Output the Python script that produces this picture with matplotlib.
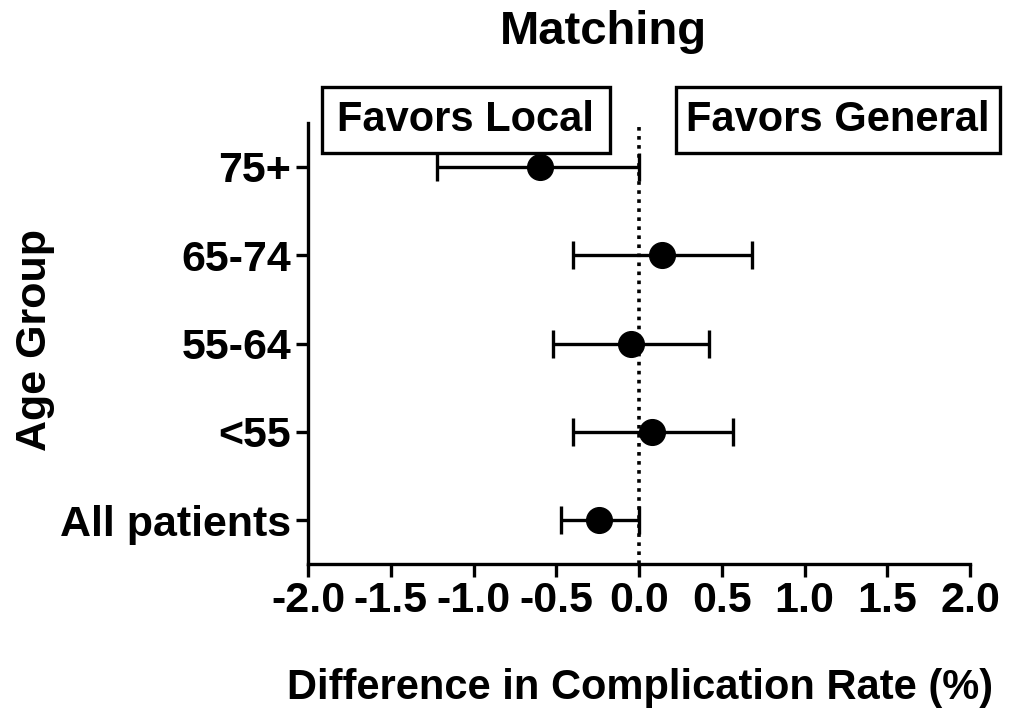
import numpy as np
import matplotlib.pyplot as plt
from matplotlib.patches import Rectangle

plt.rcParams['font.family'] = ['Liberation Sans', 'DejaVu Sans']
plt.rcParams['font.weight'] = 'bold'

groups = ['All patients', '<55', '55-64', '65-74', '75+']
diff = [-0.24, 0.08, -0.05, 0.14, -0.60]
lo = [-0.47, -0.40, -0.52, -0.40, -1.22]
hi = [0.00, 0.57, 0.42, 0.68, 0.00]
xticks = [-2.0, -1.5, -1.0, -0.5, 0.0, 0.5, 1.0, 1.5, 2.0]

fig = plt.figure(figsize=(10.19, 7.16), dpi=100)
ax = fig.add_axes([0.3023, 0.2119, 0.6496, 0.6167])

y = np.arange(len(groups))
d = np.array(diff)
err = [d - np.array(lo), np.array(hi) - d]

ax.axvline(0, color='k', lw=2.6, ls=(0, (1, 1.5)), zorder=1)
ax.errorbar(d, y, xerr=err, fmt='o', color='k', ms=18.5, lw=2.4,
            capsize=10, capthick=2.4, zorder=3)

ax.set_xlim(-2.0, 2.0)
ax.set_ylim(-0.5, 4.5)
ax.set_xticks(xticks)
ax.set_xticklabels(['%.1f' % v for v in xticks])
ax.set_yticks(y)
ax.set_yticklabels(groups)
ax.tick_params(labelsize=31, width=2.4, length=9, pad=3)

for s in ['top', 'right']:
    ax.spines[s].set_visible(False)
for s in ['left', 'bottom']:
    ax.spines[s].set_linewidth(2.4)

fig.text(0.628, 0.039, 'Difference in Complication Rate (%)', fontsize=30,
         fontweight='bold', ha='center', va='center')
fig.text(0.034, 0.525, 'Age Group', fontsize=31, rotation=90, ha='center', va='center')
fig.text(0.592, 0.956, 'Matching', fontsize=34, ha='center', va='center')

# label boxes above the plot
for x0, w in [(0.316, 0.2826), (0.6634, 0.318)]:
    fig.patches.append(Rectangle((x0, 0.7863), w, 0.0922, transform=fig.transFigure,
                                 fc='white', ec='k', lw=2.4, zorder=5))
fig.text(0.4573, 0.8324, 'Favors Local', fontsize=30, ha='center', va='center', zorder=6)
fig.text(0.8224, 0.8324, 'Favors General', fontsize=30, ha='center', va='center', zorder=6)

fig.savefig('out.png', dpi=100)
